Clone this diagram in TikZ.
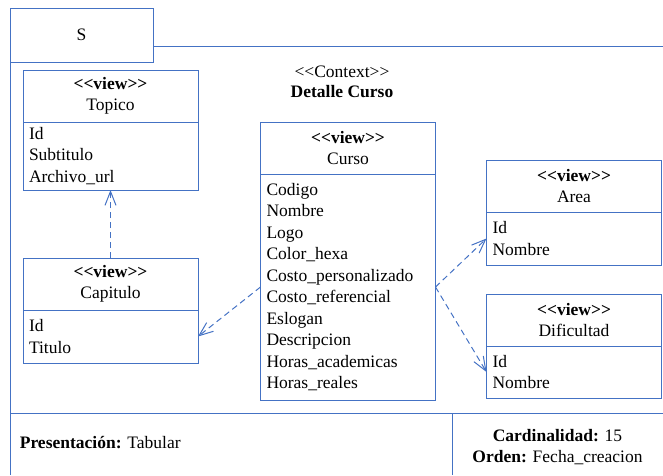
\documentclass[tikz,border=0pt]{standalone}
\usepackage{fontspec}
\setmainfont{Liberation Serif}
\usetikzlibrary{positioning,arrows.meta}
\definecolor{umlblue}{RGB}{68,114,196}

\begin{document}
\begin{tikzpicture}[
    x=1pt, y=-1pt,
    font=\fontsize{17.5}{21.5}\selectfont,
    line width=1pt,
    viewhead/.style={
        draw=umlblue, minimum width=175pt, minimum height=52pt,
        inner sep=0pt, outer sep=0pt, align=center
    },
    viewbody/.style={
        draw=umlblue, text width=163pt, inner xsep=6pt, inner ysep=0pt,
        outer sep=0pt, align=left, below=0pt of #1
    },
    depend/.style={
        draw=umlblue, dash pattern=on 6pt off 4pt,
        -{Straight Barb[length=14pt, width=11pt]}
    },
    frameline/.style={draw=umlblue}
]

\useasboundingbox (0,0) rectangle (663,475);

% Frame with tab
\node[draw=umlblue, minimum width=143pt, minimum height=54pt, inner sep=0pt, outer sep=0pt] (tab) at (81.5,35) {S};
\draw[frameline] (tab.north west) -- (10,475);
\draw[frameline] (tab.east |- 0,46) -- (663,46);
\draw[frameline] (10,413) -- (663,413);
\draw[frameline] (452,413) -- (452,475);

% Context title
\node (ctxStereo) at (342,72) {<{}<Context>{}>};
\node (ctxName) at (342,92) {\textbf{Detalle Curso}};

% Topico
\node[viewhead] (topicoH) at (110.5,96) {\textbf{<{}<view>{}>}\\Topico};
\node[viewbody=topicoH, minimum height=68pt] (topicoB) {Id\\Subtitulo\\Archivo\_url};

% Capitulo
\node[viewhead, below=68pt of topicoB] (capituloH) {\textbf{<{}<view>{}>}\\Capitulo};
\node[viewbody=capituloH, minimum height=53pt] (capituloB) {Id\\Titulo};

% Curso
\node[viewhead] (cursoH) at (348,148) {\textbf{<{}<view>{}>}\\Curso};
\node[viewbody=cursoH, minimum height=226pt] (cursoB) {Codigo\\Nombre\\Logo\\Color\_hexa\\Costo\_personalizado\\Costo\_referencial\\Eslogan\\Descripcion\\Horas\_academicas\\Horas\_reales};

% Area
\node[viewhead] (areaH) at (574,186) {\textbf{<{}<view>{}>}\\Area};
\node[viewbody=areaH, minimum height=53pt] (areaB) {Id\\Nombre};

% Dificultad
\node[viewhead, below=29pt of areaB] (dificultadH) {\textbf{<{}<view>{}>}\\Dificultad};
\node[viewbody=dificultadH, minimum height=52pt] (dificultadB) {Id\\Nombre};

% Dependencies
\draw[depend] (capituloH) -- (topicoB);
\draw[depend] (cursoB.west) -- (capituloB.east);
\draw[depend] (cursoB.east) -- (areaB.west);
\draw[depend] (cursoB.east) -- (dificultadB.west);

% Footer
\node[anchor=west] (presentacion) at (16,443) {\textbf{Presentación:} Tabular};
\node[align=center] (cardinalidad) at (557.5,447) {\textbf{Cardinalidad:} 15\\\textbf{Orden:} Fecha\_creacion};

\end{tikzpicture}
\end{document}
